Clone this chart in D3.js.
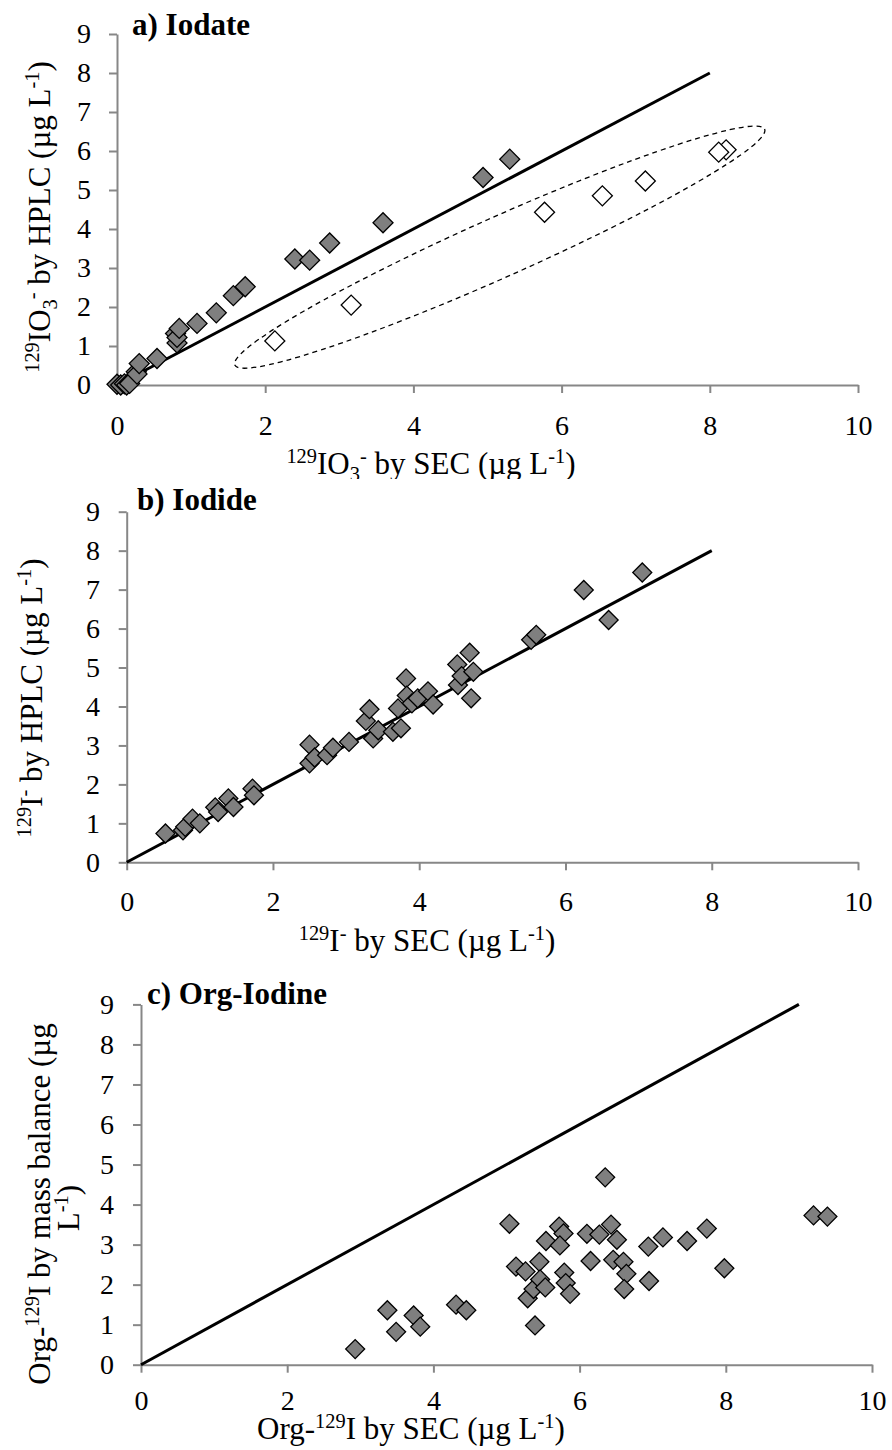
<!DOCTYPE html>
<html>
<head>
<meta charset="utf-8">
<script src="https://cdn.jsdelivr.net/npm/d3@7"></script>
<style>
  body { margin: 0; background: #fff; }
  svg { display: block; font-family: "Liberation Serif", "Times New Roman", serif; }
  svg text { font-family: "Liberation Serif", "Times New Roman", serif; }
</style>
</head>
<body>
<div id="chart"></div>
<script>
// ---- data ----
const xTicks = [0, 2, 4, 6, 8, 10]
const yTicks = [0, 1, 2, 3, 4, 5, 6, 7, 8, 9]

// a) Iodate: SEC vs HPLC
const iodateSec = [0.00, 0.05, 0.10, 0.13, 0.17, 0.26, 0.27, 0.30, 0.54, 0.79, 0.81, 0.81, 0.84, 1.08, 1.34, 1.57, 1.73, 2.40, 2.60, 2.87, 3.59, 4.94, 5.30]
const iodateHplc = [0.02, 0.00, 0.03, 0.00, 0.04, 0.34, 0.28, 0.55, 0.68, 1.32, 1.08, 1.22, 1.45, 1.58, 1.85, 2.29, 2.52, 3.23, 3.20, 3.64, 4.16, 5.32, 5.79]
// open symbols (inside the dashed ellipse)
const iodateSecOut = [2.13, 3.16, 5.77, 6.55, 7.13, 8.22, 8.12]
const iodateHplcOut = [1.13, 2.05, 4.43, 4.85, 5.23, 6.03, 5.97]
const iodateLine = [0, 8]
const iodateEllipseEnds = [[1.59, 0.51], [8.74, 6.56]]

// b) Iodide: SEC vs HPLC
const iodideSec = [0.53, 0.77, 0.80, 0.90, 1.00, 1.21, 1.25, 1.39, 1.46, 1.72, 1.74, 2.50, 2.50, 2.57, 2.74, 2.82, 3.04, 3.27, 3.32, 3.37, 3.44, 3.64, 3.75, 3.71, 3.82, 3.83, 3.90, 3.98, 4.12, 4.19, 4.52, 4.53, 4.58, 4.69, 4.74, 4.71, 5.53, 5.60, 6.25, 6.59, 7.05]
const iodideHplc = [0.74, 0.82, 0.91, 1.12, 1.00, 1.41, 1.29, 1.64, 1.42, 1.89, 1.72, 3.02, 2.54, 2.69, 2.75, 2.94, 3.09, 3.63, 3.93, 3.18, 3.39, 3.35, 3.44, 3.95, 4.72, 4.28, 4.08, 4.21, 4.39, 4.05, 5.08, 4.55, 4.78, 5.38, 4.89, 4.21, 5.71, 5.84, 6.99, 6.22, 7.44]
const iodideLine = [0, 8]

// c) Org-Iodine: SEC vs mass balance
const orgSec = [2.93, 3.37, 3.49, 3.73, 3.82, 4.31, 4.45, 5.04, 5.13, 5.26, 5.29, 5.37, 5.39, 5.45, 5.46, 5.53, 5.54, 5.72, 5.78, 5.73, 5.79, 5.81, 5.87, 6.10, 6.15, 6.27, 6.35, 6.43, 6.51, 6.46, 6.60, 6.64, 6.61, 6.94, 6.95, 7.14, 7.47, 7.74, 7.98, 9.20, 9.39]
const orgMass = [0.39, 1.36, 0.82, 1.23, 0.95, 1.50, 1.36, 3.52, 2.45, 2.33, 1.66, 1.89, 0.98, 2.57, 2.13, 1.93, 3.09, 3.45, 3.28, 2.98, 2.30, 2.04, 1.77, 3.27, 2.59, 3.25, 4.68, 3.50, 3.12, 2.62, 2.57, 2.27, 1.89, 2.95, 2.09, 3.18, 3.09, 3.40, 2.41, 3.73, 3.70]
const orgLine = [0, 9]

// ---- drawing ----
const W = 892, H = 1450
const AXIS = '#878787', FILL = '#7f7f7f'
const FONT = '"Liberation Serif", "Times New Roman", serif'

const svg = d3.select('#chart').append('svg')
  .attr('width', W)
  .attr('height', H)

svg.append('rect').attr('width', W).attr('height', H).attr('fill', '#fff')

// text with super/subscripts: parts = [[text, 'sup'|'sub'|'']]
function rich(text, parts, size) {
  let shift = 0
  parts.forEach(([t, k]) => {
    let target = k === 'sup' ? -0.36 * size : k === 'sub' ? 0.24 * size : 0
    text.append('tspan')
      .attr('dy', target - shift)
      .style('font-size', (k ? size * 0.66 : size) + 'px')
      .text(t)
    shift = target
  })
}

const zip = (a, b) => a.map((v, i) => [v, b[i]])

function panel(p) {
  let g = svg.append('g')
  if (p.bg) g.append('rect').attr('x', 0).attr('y', p.bg[0]).attr('width', W).attr('height', p.bg[1]).attr('fill', '#fff')

  let x = d3.scaleLinear().domain([0, 10]).range([p.left, p.right])
  let y = d3.scaleLinear().domain([0, 9]).range([p.bottom, p.top])

  let xa = g.append('g')
    .attr('transform', `translate(0,${p.bottom})`)
    .call(d3.axisBottom(x).tickValues(xTicks).tickSize(8).tickSizeOuter(0).tickPadding(p.xPad))
  let ya = g.append('g')
    .attr('transform', `translate(${p.left},0)`)
    .call(d3.axisLeft(y).tickValues(yTicks).tickSize(8).tickSizeOuter(0).tickPadding(p.yPad))
  ;[xa, ya].forEach(a => {
    a.attr('font-family', null).attr('font-size', null)
    a.select('.domain').attr('stroke', AXIS).attr('stroke-width', 2)
    a.selectAll('.tick line').attr('stroke', AXIS).attr('stroke-width', 2)
    a.selectAll('.tick text')
      .attr('fill', '#000')
      .style('font-family', FONT)
      .style('font-size', '28px')
  })

  // 1:1 line
  g.append('path')
    .datum(p.line.map(v => [v, v]))
    .attr('d', d3.line().x(d => x(d[0])).y(d => y(d[1])))
    .attr('fill', 'none').attr('stroke', '#000').attr('stroke-width', 3)

  if (p.ellipse) {
    let [a, b] = p.ellipse.map(d => [x(d[0]), y(d[1])])
    let cx = (a[0] + b[0]) / 2, cy = (a[1] + b[1]) / 2
    let rx = Math.hypot(b[0] - a[0], b[1] - a[1]) / 2
    let ang = Math.atan2(b[1] - a[1], b[0] - a[0]) * 180 / Math.PI
    g.append('ellipse')
      .attr('transform', `translate(${cx},${cy}) rotate(${ang})`)
      .attr('rx', rx).attr('ry', 30)
      .attr('fill', 'none').attr('stroke', '#000').attr('stroke-width', 1.3)
      .attr('stroke-dasharray', '5,4')
  }

  let sym = d3.symbol(d3.symbolSquare, p.size)
  p.series.forEach(s => {
    g.selectAll(null)
      .data(s.pts)
      .enter().append('path')
      .attr('d', sym)
      .attr('transform', d => `translate(${x(d[0])},${y(d[1])}) rotate(45)`)
      .attr('fill', s.fill)
      .attr('stroke', '#000')
      .attr('stroke-width', 1.3)
  })

  g.append('text')
    .attr('x', p.title[0]).attr('y', p.title[1])
    .style('font-size', '31px').attr('font-weight', 'bold')
    .text(p.titleText)

  let xt = g.append('text')
    .attr('x', p.xTitle[0]).attr('y', p.xTitle[1])
    .attr('text-anchor', 'middle')
  rich(xt, p.xTitleParts, 31)

  p.yTitles.forEach(t => {
    let yt = g.append('text')
      .attr('transform', `translate(${t.pos[0]},${t.pos[1]}) rotate(-90)`)
      .attr('text-anchor', 'middle')
    rich(yt, t.parts, 31)
  })
}

panel({
  left: 117, right: 858, bottom: 385, top: 34, xPad: 22, yPad: 18, size: 200,
  line: iodateLine, ellipse: iodateEllipseEnds,
  series: [
    { pts: zip(iodateSec, iodateHplc), fill: FILL },
    { pts: zip(iodateSecOut, iodateHplcOut), fill: '#fff' }
  ],
  title: [132, 35], titleText: 'a) Iodate',
  xTitle: [431, 474],
  xTitleParts: [['129', 'sup'], ['IO', ''], ['3', 'sub'], ['-', 'sup'], [' by SEC (µg L', ''], ['-1', 'sup'], [')', '']],
  yTitles: [{ pos: [50, 217], parts: [['129', 'sup'], ['IO', ''], ['3', 'sub'], ['-', 'sup'], [' by HPLC (µg L', ''], ['-1', 'sup'], [')', '']] }]
})

panel({
  bg: [479, 500],
  left: 126.7, right: 858, bottom: 862.3, top: 511.7, xPad: 21, yPad: 18.7, size: 180,
  line: iodideLine,
  series: [{ pts: zip(iodideSec, iodideHplc), fill: FILL }],
  title: [137, 510], titleText: 'b) Iodide',
  xTitle: [427, 951],
  xTitleParts: [['129', 'sup'], ['I', ''], ['-', 'sup'], [' by SEC (µg L', ''], ['-1', 'sup'], [')', '']],
  yTitles: [{ pos: [42, 698], parts: [['129', 'sup'], ['I', ''], ['-', 'sup'], [' by HPLC (µg L', ''], ['-1', 'sup'], [')', '']] }]
})

panel({
  left: 141, right: 872, bottom: 1364.7, top: 1004.4, xPad: 17, yPad: 19, size: 180,
  line: orgLine,
  series: [{ pts: zip(orgSec, orgMass), fill: FILL }],
  title: [147, 1004], titleText: 'c) Org-Iodine',
  xTitle: [411, 1439],
  xTitleParts: [['Org-', ''], ['129', 'sup'], ['I by SEC (µg L', ''], ['-1', 'sup'], [')', '']],
  yTitles: [
    { pos: [50, 1204], parts: [['Org-', ''], ['129', 'sup'], ['I by mass balance (µg', '']] },
    { pos: [79, 1208], parts: [['L', ''], ['-1', 'sup'], [')', '']] }
  ]
})
</script>
</body>
</html>
